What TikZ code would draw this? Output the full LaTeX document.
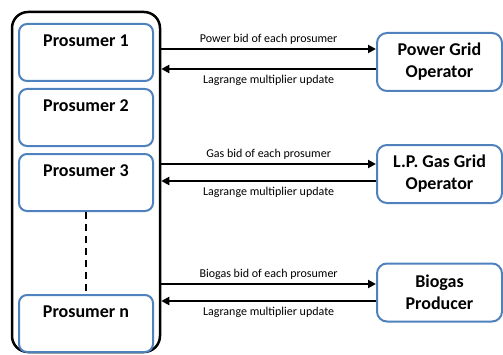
\documentclass[tikz,border=0pt]{standalone}
\usepackage{fontspec}
\setmainfont{Carlito}
\usepackage{xcolor}
\definecolor{boxblue}{RGB}{79, 129, 189}
\usepackage{tikz}
\usetikzlibrary{positioning,arrows.meta}

\begin{document}
\begin{tikzpicture}[
        x=1pt, y=1pt,
        node distance=6pt,
        grpbox/.style={rectangle, rounded corners=16pt, draw=black, line width=2.5pt, minimum width=148pt, minimum height=340pt},
        pbox/.style={rectangle, rounded corners=8pt, draw=boxblue, line width=2pt, fill=white, minimum width=134pt, inner sep=0pt, text height=22.7pt, text depth=34.3pt, font=\fontsize{18}{22}\selectfont\bfseries},
        obox/.style={rectangle, rounded corners=10pt, draw=boxblue, line width=2pt, fill=white, minimum width=125pt, minimum height=58pt, align=center, font=\fontsize{18}{22}\selectfont\bfseries},
        arr/.style={-{Triangle[length=8pt,width=8pt]}, line width=2.5pt},
        lbl/.style={font=\fontsize{12}{14}\selectfont}
    ]
    \useasboundingbox (0,0) rectangle (503,354);
    \node[grpbox] (grp) at (86,172) {};
    \node[pbox] (p1) at (86,301.5) {Prosumer 1};
    \node[pbox, below=of p1] (p2) {Prosumer 2};
    \node[pbox, below=of p2] (p3) {Prosumer 3};
    \node[pbox] (pn) at (86,30.5) {Prosumer n};
    \draw[line width=1.5pt, dash pattern=on 7pt off 5pt] (p3) -- (pn);

    \node[obox] (pgo) at (439.5,292) {Power Grid\\Operator};
    \node[obox] (gas) at (439.5,180) {L.P. Gas Grid\\Operator};
    \node[obox] (bio) at (439.5,61.5) {Biogas\\Producer};

    \coordinate (pwin)  at ([yshift=13pt]pgo.west);
    \coordinate (pwout) at ([yshift=-7pt]pgo.west);
    \coordinate (gsin)  at ([yshift=10pt]gas.west);
    \coordinate (gsout) at ([yshift=-7pt]gas.west);
    \coordinate (bgin)  at ([yshift=8.5pt]bio.west);
    \coordinate (bgout) at ([yshift=-8.5pt]bio.west);

    \draw[arr] (grp.east |- pwin) -- (pwin) node[midway, above, lbl] {Power bid of each prosumer};
    \draw[arr] (pwout) -- (grp.east |- pwout) node[midway, below=2pt, lbl] {Lagrange multiplier update};
    \draw[arr] (grp.east |- gsin) -- (gsin) node[midway, above, lbl] {Gas bid of each prosumer};
    \draw[arr] (gsout) -- (grp.east |- gsout) node[midway, below=2pt, lbl] {Lagrange multiplier update};
    \draw[arr] (grp.east |- bgin) -- (bgin) node[midway, above, lbl] {Biogas bid of each prosumer};
    \draw[arr] (bgout) -- (grp.east |- bgout) node[midway, below=2pt, lbl] {Lagrange multiplier update};
\end{tikzpicture}
\end{document}
